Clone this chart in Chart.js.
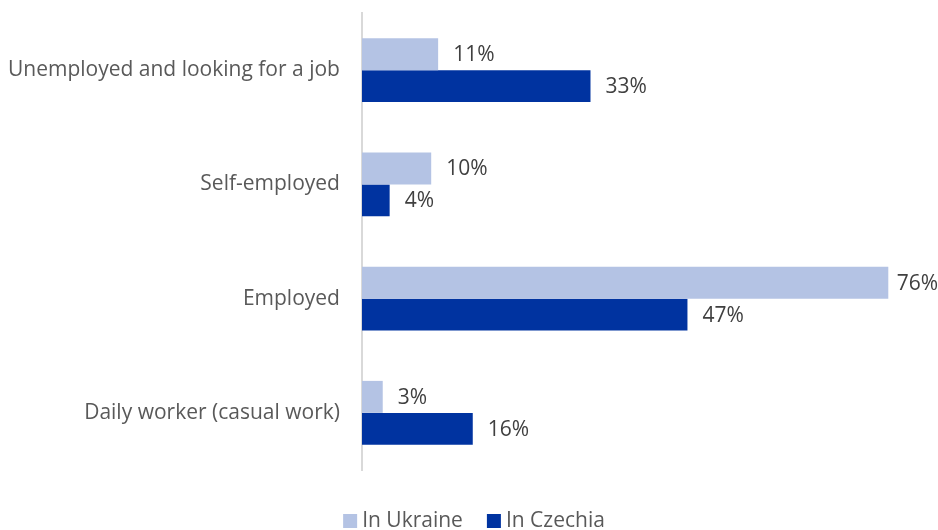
<!DOCTYPE html>
<html>
<head>
<meta charset="utf-8">
<script src="https://cdn.jsdelivr.net/npm/chart.js@4.4.1/dist/chart.umd.min.js"></script>
<style>
  html, body { margin: 0; padding: 0; background: #fff; }
  #wrap { width: 938px; height: 530px; }
</style>
</head>
<body>
<div id="wrap"><canvas id="myChart" width="938" height="530"></canvas></div>
<script>
const categorias = ['Unemployed and looking for a job', 'Self-employed', 'Employed', 'Daily worker (casual work)'];
const enUcrania = [11, 10, 76, 3];
const enChequia = [33, 4, 47, 16];
const etiquetasSeries = ['In Ukraine', 'In Czechia'];

const colorClaro = '#b4c3e4';
const colorOscuro = '#0033a0';
const fuente = '21px "Open Sans"';

// etiquetas de valor al final de cada barra
const etiquetasBarras = {
    id: 'etiquetasBarras',
    afterDatasetsDraw(chart) {
        const ctx = chart.ctx;
        ctx.save();
        ctx.font = fuente;
        ctx.fillStyle = '#404040';
        ctx.textBaseline = 'middle';
        ctx.textAlign = 'left';
        chart.data.datasets.forEach((ds, i) => {
            chart.getDatasetMeta(i).data.forEach((bar, j) => {
                const texto = ds.data[j] + '%';
                const ancho = ctx.measureText(texto).width;
                let x = bar.x + 15;
                if (x + ancho > chart.width) x = chart.width - ancho;
                ctx.fillText(texto, x, bar.y + 1);
            });
        });
        ctx.restore();
    }
};

// leyenda abajo, centrada
const leyenda = {
    id: 'leyenda',
    afterDraw(chart) {
        const ctx = chart.ctx;
        ctx.save();
        ctx.font = fuente;
        ctx.textBaseline = 'middle';
        const caja = 14;
        const items = chart.data.datasets.map(ds => ({
            texto: ds.label,
            color: ds.backgroundColor,
            ancho: caja + 5 + ctx.measureText(ds.label).width,
        }));
        const total = items.reduce((s, it) => s + it.ancho, 0) + 24 * (items.length - 1);
        let x = chart.width / 2 + 5 - total / 2;
        const y = 521;
        items.forEach(it => {
            ctx.fillStyle = it.color;
            ctx.fillRect(x, y - caja / 2, caja, caja);
            ctx.fillStyle = '#595959';
            ctx.fillText(it.texto, x + caja + 5, y);
            x += it.ancho + 24;
        });
        ctx.restore();
    }
};

const ctx = document.getElementById('myChart').getContext('2d');
const myChart = new Chart(ctx, {
    type: 'bar',
    data: {
        labels: categorias,
        datasets: [
            { label: etiquetasSeries[0], data: enUcrania, backgroundColor: colorClaro },
            { label: etiquetasSeries[1], data: enChequia, backgroundColor: colorOscuro },
        ],
    },
    options: {
        indexAxis: 'y',
        responsive: false,
        animation: false,
        devicePixelRatio: 1,
        categoryPercentage: 0.56,
        barPercentage: 1,
        layout: { padding: { top: 13, right: 22, left: 8, bottom: 60 } },
        scales: {
            x: { display: false, min: 0, max: 80 },
            y: {
                grid: { display: false, drawTicks: true, tickLength: 22 },
                border: { display: true, color: '#d9d9d9', width: 2 },
                ticks: {
                    color: '#595959',
                    font: { family: 'Open Sans', size: 21 },
                    padding: 0,
                },
            },
        },
        plugins: {
            tooltip: { enabled: false },
            legend: { display: false },
        },
    },
    plugins: [etiquetasBarras, leyenda],
});
</script>
</body>
</html>
